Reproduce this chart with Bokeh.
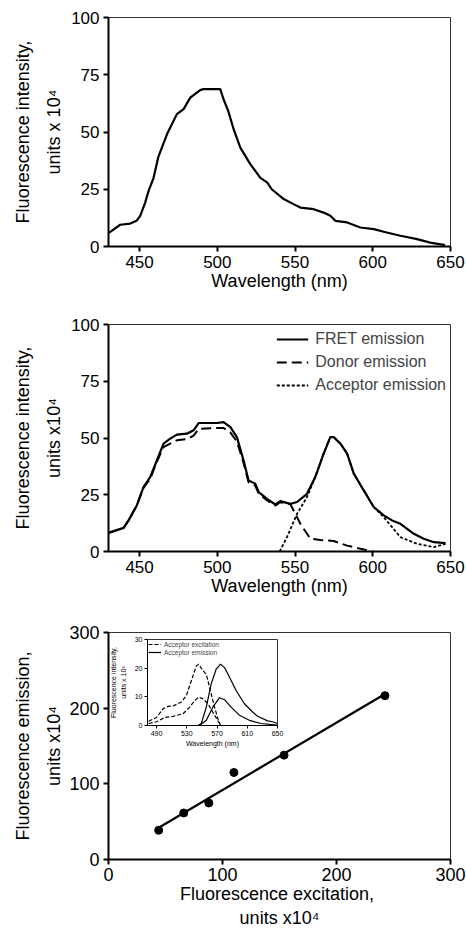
import numpy as np
from bokeh.plotting import figure
from bokeh.models import Range1d, Legend, LegendItem, LinearAxis, FixedTicker
from bokeh.layouts import column
from bokeh.embed import file_html
from bokeh.resources import INLINE

FONT = "Liberation Sans"

# ---------------- data ----------------
# Panel A: single emission spectrum
wl_a = [430, 437.5, 444, 448, 450.4, 453.6, 455.8, 459, 462, 467.6, 474, 478.3, 482.6, 489, 491,
        501.9, 504, 507, 510.5, 514.8, 521.2, 527.7, 532, 535, 542.7, 549, 553.4, 562, 568.4, 572.7,
        576, 583.5, 592, 600.6, 609, 617.8, 628.5, 637, 646.5]
int_a = [5.8, 9.5, 10, 11.2, 13.4, 19.2, 24.3, 30, 39, 49, 57.8, 60, 65, 68.3, 68.7,
         68.7, 64.3, 59.2, 51.2, 43.2, 36, 30, 28, 25, 20.7, 18.5, 17, 16.3, 14.8, 13.4,
         11.2, 10.5, 8.3, 7.6, 6.1, 4.7, 3.2, 1.7, 0.6]

# Panel B: FRET / donor / acceptor emission
wl_fret = [430, 439.7, 442.9, 448.2, 452.5, 456.8, 461.1, 465.4, 469.7, 474, 480.4, 484.7, 488, 499.8, 504,
           508.3, 512.6, 516.9, 520.1, 524.4, 526.6, 532, 537.3, 540.5, 547, 551.3, 557.7, 563, 568.4, 572.7,
           574.9, 579.2, 583.5, 587.8, 594.2, 600.6, 607.1, 612.4, 617.8, 626.4, 632.8, 639.3, 646.8]
fret = [8.2, 10.4, 13.7, 20.3, 28.4, 32.8, 40.1, 47.5, 49.7, 51.5, 51.9, 53.4, 56.6, 56.6, 57,
        54.9, 50.4, 40.1, 31.3, 29.9, 26.2, 23.2, 20.7, 22.2, 21, 21.8, 25.4, 32.8, 43.1, 50.4,
        50.4, 47.5, 43.1, 34.3, 26.9, 19.6, 15.9, 13.7, 12.2, 7.8, 5.6, 4.1, 3.7]
wl_donor = [430, 439.7, 442.9, 448.2, 452.5, 456.8, 461.1, 465.4, 469.7, 474, 480.4, 484.7, 488, 499.8, 504,
            508.3, 512.6, 516.9, 520.1, 524.4, 526.6, 532, 537.3, 540.5, 547, 550.2, 553.4, 559.9, 566.3, 574.9,
            583.5, 592.1, 600.2]
donor = [8.2, 10.4, 13.7, 20.3, 28, 32, 39.5, 46, 47.5, 49, 49.5, 51, 54, 54.4, 54.4,
         52.5, 48.5, 39, 30.5, 29, 25.5, 22.5, 20.2, 21.7, 20.8, 16.6, 12.2, 5.6, 5.1, 4.6,
         2.6, 1.2, 0]
wl_acc = [540.1, 544.8, 551.3, 557.7, 563, 568.4, 572.7, 574.9, 579.2, 583.5, 587.8, 594.2, 600.6,
          607.1, 617.8, 628.5, 639.3, 646.8]
acc = [0, 6.3, 16.6, 24, 32.8, 43.1, 50.4, 50.4, 47.5, 43.1, 34.3, 26.9, 19.6,
       15.1, 6.3, 3.4, 1.9, 3.4]

# Panel C: emission vs excitation
excitation = [44, 66, 88, 110, 154, 242.5]
emission = [38.6, 61.5, 74.7, 115, 137.9, 216.5]

# Inset: acceptor excitation / emission spectra
wl_exc_hi = [479.5, 490, 498.8, 505.3, 511.9, 522.9, 529.5, 536, 542.6, 545.7, 551.4, 555.8, 560.1, 566.7, 571.1, 574.6]
exc_hi = [1.5, 2.8, 5.9, 6.7, 6.8, 8.2, 10.5, 15.6, 20.8, 21.4, 19.1, 17.9, 13.3, 6.4, 2.4, 0]
wl_exc_lo = [479.5, 490, 501, 511.9, 525, 533.8, 540.4, 545.7, 551.4, 558, 566.7, 573.3, 575.5]
exc_lo = [0.7, 1.3, 2.8, 3.2, 4.1, 6.4, 8.7, 9.9, 9.3, 7.6, 3.6, 0.7, 0]
wl_em_hi = [544.8, 549.2, 555.8, 562.3, 568.9, 574.6, 579.9, 586.5, 595.2, 606.2, 617.1, 623.7, 636.9, 643.4, 650]
em_hi = [0, 0.7, 6.4, 14.5, 19.7, 21.4, 20.2, 16.8, 12.2, 7.6, 4.7, 3.2, 1.6, 1.3, 0.7]
wl_em_lo = [547, 555.8, 564.5, 573.3, 579.9, 588.6, 599.6, 612.8, 628.1, 650]
em_lo = [0, 1.8, 6.4, 9.7, 9.0, 6.4, 3.6, 1.8, 0.7, 0.1]

wl_ticks = [450, 500, 550, 600, 650]
int_ticks = [0, 25, 50, 75, 100]
c_ticks = [0, 100, 200, 300]
inset_xticks = [490, 530, 570, 610, 650]
inset_yticks = [0, 10, 20, 30]


def style(p, tick_px, label_px, axis_w=2, tick_out=5, standoff=4):
    for ax in (p.xaxis[0], p.yaxis[0]):
        ax.axis_line_width = axis_w
        ax.axis_line_color = "black"
        ax.major_tick_line_width = axis_w
        ax.major_tick_line_color = "black"
        ax.major_tick_out = tick_out
        ax.major_tick_in = 0
        ax.minor_tick_line_color = None
        ax.major_label_text_font = FONT
        ax.major_label_text_font_size = f"{tick_px}px"
        ax.major_label_text_color = "black"
        ax.major_label_standoff = standoff
        ax.axis_label_text_font = FONT
        ax.axis_label_text_font_size = f"{label_px}px"
        ax.axis_label_text_font_style = "normal"
        ax.axis_label_text_color = "black"
        ax.axis_label_standoff = 0
    p.xgrid.visible = False
    p.ygrid.visible = False
    p.outline_line_color = "#333333"
    p.outline_line_width = 1
    p.background_fill_color = "white"
    p.border_fill_color = "white"


def outer_label(p, text, px, standoff):
    """Second (outer) line of a two-line y label, carried by a bare extra axis."""
    ax = LinearAxis(axis_label=text, ticker=FixedTicker(ticks=[]),
                    axis_line_color=None, major_tick_line_color=None, minor_tick_line_color=None,
                    major_tick_out=0, major_tick_in=0, minor_tick_out=0, minor_tick_in=0,
                    major_label_standoff=0, axis_label_standoff=standoff,
                    axis_label_text_font=FONT, axis_label_text_font_size=f"{px}px",
                    axis_label_text_font_style="normal", axis_label_text_color="black")
    p.add_layout(ax, "left")


# ---------------- panel A ----------------
p1 = figure(width=466, height=300, x_range=Range1d(430, 650), y_range=Range1d(0, 100),
            output_backend="svg", toolbar_location=None,
            min_border_left=108, min_border_right=16, min_border_top=17, min_border_bottom=54)
p1.line(wl_a, int_a, line_color="black", line_width=2.2)
p1.xaxis.ticker = wl_ticks
p1.yaxis.ticker = int_ticks
p1.xaxis.axis_label = "Wavelength (nm)"
p1.yaxis.axis_label = "units x 10\u2074"
style(p1, 17, 18)
p1.yaxis.axis_label_standoff = 4
outer_label(p1, "Fluorescence intensity,", 18, 9)

# ---------------- panel B ----------------
p2 = figure(width=466, height=311, x_range=Range1d(430, 650), y_range=Range1d(0, 100),
            output_backend="svg", toolbar_location=None,
            min_border_left=108, min_border_right=16, min_border_top=24, min_border_bottom=60)
r_f = p2.line(wl_fret, fret, line_color="black", line_width=2.2)
r_d = p2.line(wl_donor, donor, line_color="black", line_width=2, line_dash="10 5")
r_a = p2.line(wl_acc, acc, line_color="black", line_width=1.8, line_dash="3 2")
p2.xaxis.ticker = wl_ticks
p2.yaxis.ticker = int_ticks
p2.xaxis.axis_label = "Wavelength (nm)"
p2.yaxis.axis_label = "units x10\u2074"
style(p2, 17, 18)
p2.yaxis.axis_label_standoff = 4
outer_label(p2, "Fluorescence intensity,", 18, 9)
leg2 = Legend(items=[LegendItem(label="FRET emission", renderers=[r_f]),
                     LegendItem(label="Donor emission", renderers=[r_d]),
                     LegendItem(label="Acceptor emission", renderers=[r_a])],
              location="top_right")
leg2.border_line_color = None
leg2.background_fill_alpha = 0
leg2.label_text_font = FONT
leg2.label_text_font_size = "16px"
leg2.glyph_width = 32
leg2.glyph_height = 22
leg2.label_height = 22
leg2.label_standoff = 7
leg2.spacing = 1
leg2.padding = 0
leg2.margin = 4
p2.add_layout(leg2)

# ---------------- panel C ----------------
p3 = figure(width=466, height=320, x_range=Range1d(0, 300), y_range=Range1d(0, 300),
            output_backend="svg", toolbar_location=None,
            min_border_left=108, min_border_right=16, min_border_top=21, min_border_bottom=72)
slope, intercept = np.polyfit(excitation, emission, 1)
fx = np.array([min(excitation), max(excitation)])
p3.line(fx, slope * fx + intercept, line_color="black", line_width=2.2)
p3.scatter(excitation, emission, size=8, fill_color="black", line_color="black")
p3.xaxis.ticker = c_ticks
p3.yaxis.ticker = c_ticks
p3.xaxis.axis_label = "Fluorescence  excitation,\nunits x10\u2074"
p3.yaxis.axis_label = "units x10\u2074"
style(p3, 18, 18)
p3.xaxis.major_label_standoff = 3
p3.yaxis.axis_label_standoff = 2
outer_label(p3, "Fluorescence emission,", 18, 9)

# ---------------- inset ----------------
# borders equal to the main panels' (the column aligns them); frame lands at x 147..277
pin = figure(width=254, height=119, x_range=Range1d(478, 650), y_range=Range1d(0, 30),
             output_backend="svg", toolbar_location=None,
             min_border_left=108, min_border_right=16, min_border_top=6, min_border_bottom=27,
             margin=(-298, 0, 0, 39))
ri1 = pin.line(wl_exc_hi, exc_hi, line_color="black", line_width=1.2, line_dash="4 2")
pin.line(wl_exc_lo, exc_lo, line_color="black", line_width=1.2, line_dash="4 2")
ri2 = pin.line(wl_em_hi, em_hi, line_color="black", line_width=1.2)
pin.line(wl_em_lo, em_lo, line_color="black", line_width=1.2)
pin.xaxis.ticker = inset_xticks
pin.yaxis.ticker = inset_yticks
pin.xaxis.axis_label = "Wavelength (nm)"
pin.yaxis.axis_label = "units x 10\u00b3"
style(pin, 7, 7, axis_w=1, tick_out=3, standoff=2)
pin.xaxis.axis_label_standoff = 1
pin.yaxis.axis_label_standoff = 5
outer_label(pin, "Fluorescence intensity,", 7, 0)
pin.border_fill_color = None
pin.background_fill_color = "white"
leg_in = Legend(items=[LegendItem(label="Acceptor excitation", renderers=[ri1]),
                       LegendItem(label="Acceptor emission", renderers=[ri2])],
                location="top_left")
leg_in.border_line_color = None
leg_in.background_fill_alpha = 0
leg_in.label_text_font = FONT
leg_in.label_text_font_size = "6.5px"
leg_in.glyph_width = 13
leg_in.glyph_height = 8
leg_in.label_height = 8
leg_in.label_standoff = 3
leg_in.spacing = 0
leg_in.padding = 0
leg_in.margin = 1
pin.add_layout(leg_in)

layout = column(p1, p2, p3, pin, spacing=0)
open("out.html", "w").write(file_html(layout, INLINE))
